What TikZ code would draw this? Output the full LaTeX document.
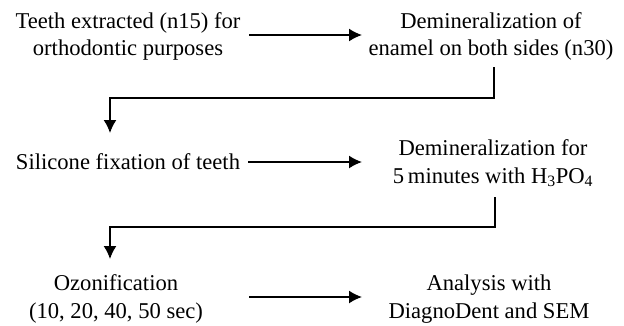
\documentclass[tikz,border=0pt]{standalone}
\usepackage{fontspec}
\setmainfont{Liberation Serif}
\usetikzlibrary{arrows.meta,calc}
\begin{document}
\begin{tikzpicture}[x=1pt,y=-1pt,
  lbl/.style={align=center,inner sep=0pt,font=\fontsize{22.6}{27.5}\selectfont},
  arr/.style={line width=1.6pt,-{Latex[length=13pt,width=13pt]}}]
\useasboundingbox (0,0) rectangle (624,325);
\node[lbl] (a) at (128,36.5) {Teeth extracted (n15) for\\orthodontic purposes};
\node[lbl] (b) at (491,36.5) {Demineralization of\\enamel on both sides (n30)};
\node[lbl] (c) at (128,162) {Silicone fixation of teeth};
\node[lbl] (d) at (493,163.5) {Demineralization for\\5\,minutes with H\textsubscript{3}PO\textsubscript{4}};
\node[lbl] (e) at (116,299) {Ozonification\\(10, 20, 40, 50 sec)};
\node[lbl] (f) at (489,299) {Analysis with\\DiagnoDent and SEM};
\coordinate (t1) at (494,67);
\coordinate (k1) at (110,98);
\coordinate (e1) at (110,133);
\coordinate (t2) at (495,197);
\coordinate (k2) at (110,227);
\coordinate (e2) at (110,259);
\coordinate (s1) at (249,35);
\coordinate (s2) at (248,162);
\coordinate (s3) at (249,297);
\draw[arr] (s1) -- (s1 -| 362,0);
\draw[arr] (s2) -- (s2 -| 362,0);
\draw[arr] (s3) -- (s3 -| 362,0);
\draw[arr] (t1) |- (k1) -- (e1);
\draw[arr] (t2) |- (k2) -- (e2);
\end{tikzpicture}
\end{document}
